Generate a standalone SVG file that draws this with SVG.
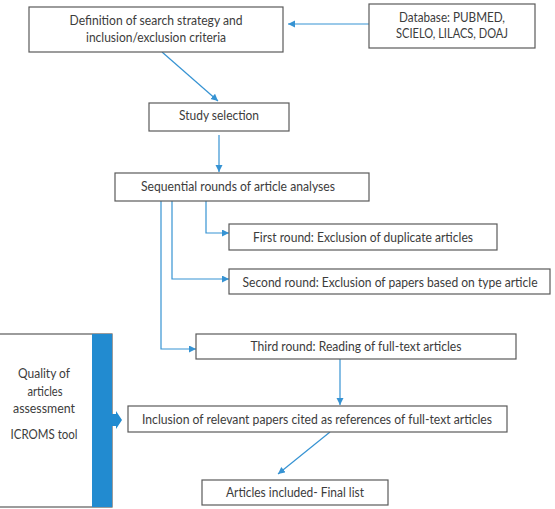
<svg xmlns="http://www.w3.org/2000/svg" width="555" height="509" viewBox="0 0 555 509">
<style>
.box{fill:#fff;stroke:#5a5a5a;stroke-width:1.2}
.t{font-family:Lato,"Liberation Sans",sans-serif;font-size:12.5px;fill:#3c3c3c;text-anchor:middle}
.c{fill:none;stroke:#3693d3;stroke-width:1.2}
</style>
<defs>
<marker id="ah" markerUnits="userSpaceOnUse" markerWidth="8" markerHeight="8" refX="7" refY="3.5" orient="auto">
<path d="M0,0 L7,3.5 L0,7 z" fill="#3693d3"/>
</marker>
</defs>
<rect width="555" height="509" fill="#fff"/>
<g id="connectors">
<line class="c" x1="369" y1="24" x2="288" y2="24" marker-end="url(#ah)"/>
<line class="c" x1="162" y1="52" x2="218" y2="101" marker-end="url(#ah)"/>
<line class="c" x1="219" y1="135" x2="219" y2="172" marker-end="url(#ah)"/>
<path class="c" d="M206,201 V233 H229" marker-end="url(#ah)"/>
<path class="c" d="M172,201 V279 H229" marker-end="url(#ah)"/>
<path class="c" d="M161,201 V349 H196" marker-end="url(#ah)"/>
<line class="c" x1="340" y1="359" x2="340" y2="405" marker-end="url(#ah)"/>
<line class="c" x1="330" y1="432" x2="278" y2="474" marker-end="url(#ah)"/>
</g>
<g id="definition">
<rect class="box" x="29" y="7" width="254" height="45"/>
<text class="t" x="156" y="25" textLength="173" lengthAdjust="spacingAndGlyphs">Definition of search strategy and</text>
<text class="t" x="156" y="42" textLength="140" lengthAdjust="spacingAndGlyphs">inclusion/exclusion criteria</text>
</g>
<g id="database">
<rect class="box" x="369" y="4" width="166" height="44"/>
<text class="t" x="452" y="22" textLength="106" lengthAdjust="spacingAndGlyphs">Database: PUBMED,</text>
<text class="t" x="452" y="38" textLength="112" lengthAdjust="spacingAndGlyphs">SCIELO, LILACS, DOAJ</text>
</g>
<g id="study">
<rect class="box" x="149" y="103" width="140" height="28"/>
<text class="t" x="219" y="120" textLength="80" lengthAdjust="spacingAndGlyphs">Study selection</text>
</g>
<g id="sequential">
<rect class="box" x="115" y="173" width="254" height="28"/>
<text class="t" x="238" y="191" textLength="194" lengthAdjust="spacingAndGlyphs">Sequential rounds of article analyses</text>
</g>
<g id="first">
<rect class="box" x="229" y="224" width="268" height="26"/>
<text class="t" x="363" y="242" textLength="220" lengthAdjust="spacingAndGlyphs">First round: Exclusion of duplicate articles</text>
</g>
<g id="second">
<rect class="box" x="229" y="269" width="321" height="25"/>
<text class="t" x="390" y="287" textLength="295" lengthAdjust="spacingAndGlyphs">Second round: Exclusion of papers based on type article</text>
</g>
<g id="third">
<rect class="box" x="196" y="334" width="320" height="25"/>
<text class="t" x="356" y="351" textLength="211" lengthAdjust="spacingAndGlyphs">Third round: Reading of full-text articles</text>
</g>
<g id="inclusion">
<rect class="box" x="128" y="406" width="379" height="26"/>
<text class="t" x="317" y="424" textLength="350" lengthAdjust="spacingAndGlyphs">Inclusion of relevant papers cited as references of full-text articles</text>
</g>
<g id="final">
<rect class="box" x="202" y="480" width="186" height="25"/>
<text class="t" x="295" y="497" textLength="138" lengthAdjust="spacingAndGlyphs">Articles included- Final list</text>
</g>
<g id="quality">
<rect class="box" x="-2" y="334" width="114" height="173"/>
<rect x="92" y="334" width="20" height="173" fill="#228bd0"/>
<path d="M111,414 H116 V411 L122,420 L116,429 V426 H111 z" fill="#228bd0"/>
<text class="t" x="44" y="378" textLength="52" lengthAdjust="spacingAndGlyphs">Quality of</text>
<text class="t" x="45" y="396" textLength="35" lengthAdjust="spacingAndGlyphs">articles</text>
<text class="t" x="44" y="413" textLength="62" lengthAdjust="spacingAndGlyphs">assessment</text>
<text class="t" x="44" y="439" textLength="67" lengthAdjust="spacingAndGlyphs">ICROMS tool</text>
</g>
</svg>
